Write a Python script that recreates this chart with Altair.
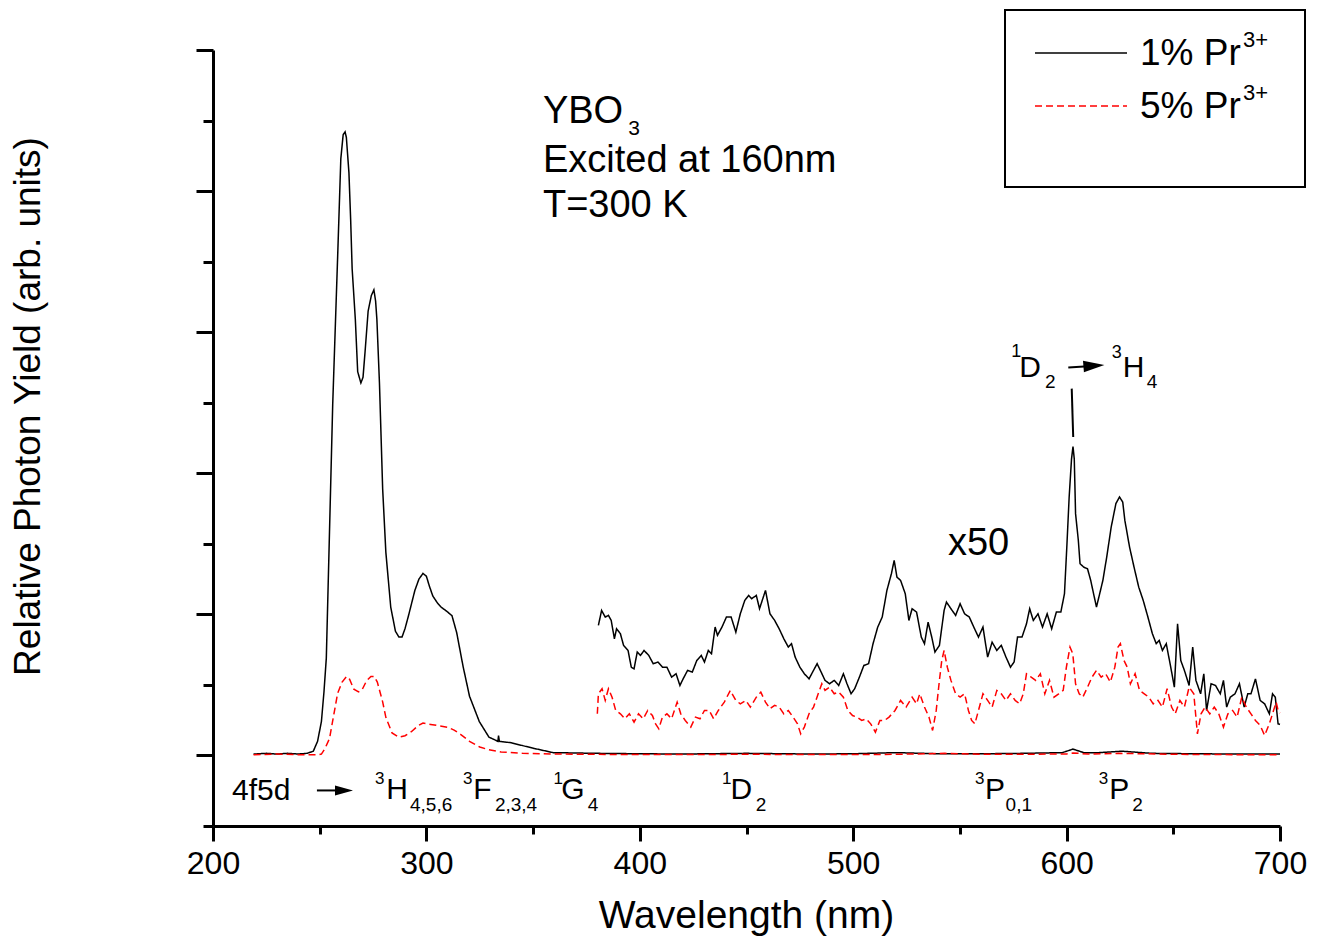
import altair as alt
import pandas as pd

FONT = "Liberation Sans"
LBL1 = "1% Pr3+"
LBL5 = "5% Pr3+"

# ---- 1% Pr3+ , full scale ----
wl_1_main = [219, 225, 230, 235, 240, 244, 247, 249, 250.8, 252, 253.1, 254.6, 256.1, 258.4, 259.9, 261.0,
             261.9, 262.5, 263.7, 264.5, 265.2, 266.7, 267.8, 269.3, 270.3, 271.2, 272.7, 274.2, 275.4,
             276.2, 276.8, 278.0, 279.5, 281.0, 283.3, 285.5, 287.1, 288.6, 290, 291.6, 294.6, 296.5,
             298.4, 300, 301.4, 303, 305.2, 307, 309.7, 312.0, 314.2, 317.2, 320.2, 324.8, 329.3, 333.5,
             333.8, 334.2, 339.8, 345, 350.4, 359.4, 380, 400, 420, 450, 480, 500, 520, 540, 560, 580,
             598, 603, 608, 615, 626, 640, 660, 680, 700]
y_1_main = [0.01, 0.015, 0.01, 0.015, 0.01, 0.015, 0.03, 0.10, 0.24, 0.45, 0.69, 1.59, 2.49, 3.53, 4.23, 4.40,
            4.42, 4.38, 4.13, 3.80, 3.45, 3.09, 2.72, 2.64, 2.68, 2.85, 3.15, 3.26, 3.30,
            3.22, 3.09, 2.64, 1.89, 1.44, 1.05, 0.88, 0.84, 0.84, 0.90, 0.99, 1.17, 1.25,
            1.29, 1.27, 1.20, 1.13, 1.08, 1.05, 1.02, 0.99, 0.87, 0.63, 0.42, 0.24, 0.13, 0.10,
            0.14, 0.10, 0.09, 0.07, 0.05, 0.02, 0.015, 0.012, 0.01, 0.015, 0.01, 0.012, 0.02, 0.012, 0.012, 0.015,
            0.02, 0.045, 0.02, 0.02, 0.03, 0.015, 0.012, 0.01, 0.01]

# ---- 5% Pr3+ , full scale ----
wl_5_main = [219, 230, 240, 249, 250.8, 252.5, 254.6, 256.5, 258.4, 260.5, 262.6, 264, 266, 268.2, 270, 272,
             274, 275.5, 277, 279.5, 281, 283.9, 287.1, 290, 293.1, 296, 298.4, 302, 306, 310, 313, 316,
             320.2, 325, 329.3, 335, 345, 360, 400, 450, 500, 520, 543, 560, 600, 603, 610, 625, 650, 700]
y_5_main = [0.005, 0.01, 0.005, 0.005, 0.01, 0.05, 0.12, 0.28, 0.44, 0.52, 0.56, 0.54, 0.47, 0.45, 0.47, 0.53,
            0.56, 0.56, 0.52, 0.38, 0.27, 0.16, 0.13, 0.14, 0.17, 0.21, 0.23, 0.22, 0.21, 0.20, 0.18, 0.15,
            0.10, 0.06, 0.04, 0.025, 0.015, 0.01, 0.006, 0.008, 0.006, 0.008, 0.015, 0.008, 0.01, 0.018, 0.01,
            0.015, 0.008, 0.004]

# ---- 1% Pr3+ , x50 ----
wl_1_x50 = [380.6, 382.1, 383.8, 385.3, 386.6, 388.1, 389.1, 390.9, 392.4, 394.5, 396.0, 397.3, 398.8, 400.3,
            402.0, 404.2, 406.3, 408.5, 410.6, 412.7, 414.9, 417.0, 418.8, 420.3, 422.4, 424.6, 426.7, 428.8,
            430.3, 432.1, 433.6, 435.3, 436.4, 438.5, 440.6, 442.8, 445.0, 447.1, 449.2, 451.0, 452.4, 454.6,
            456.1, 458.9, 461.0, 463.2, 465.3, 467.5, 469.6, 471.1, 472.8, 475.0, 477.1, 479.3, 481.4, 483.1,
            484.6, 486.8, 488.9, 491.1, 493.2, 495.4, 497.1, 499.0, 500.7, 502.9, 505.0, 507.2, 509.3, 511.5,
            513.6, 515.8, 517.9, 519.2, 520.5, 522.2, 524.4, 526.1, 527.6, 529.7, 531.9, 533.4, 535.1, 536.8,
            538.3, 540.4, 542.6, 543.7, 545.8, 548.0, 550.1, 552.2, 554.4, 556.5, 558.7, 560.8, 563.0, 565.1,
            567.3, 569.4, 571.6, 573.7, 575.4, 577.0, 579.1, 581.2, 582.7, 584.4, 586.6, 588.7, 590.9, 593.0,
            595.2, 597.3, 599.0, 600.1, 601.2, 602.3, 603.0, 603.6, 604.2, 605.5, 606.3, 608.0, 609.8, 611.3,
            612.3, 614.0, 615.5, 617.0, 618.8, 620.9, 623.1, 624.8, 626.3, 627.3, 629.5, 631.6, 633.8, 635.9,
            638.1, 640.2, 642.0, 643.4, 644.9, 646.7, 648.8, 650.5, 652.0, 653.5, 655.2, 657.4, 659.1, 660.6,
            662.8, 664.3, 665.6, 667.7, 669.8, 672.0, 673.5, 675.0, 676.7, 678.9, 681.0, 683.2, 684.9, 686.4,
            688.5, 690.7, 692.8, 695.0, 696.5, 697.8, 699.1, 700.0]
y_1_x50 = [0.922, 1.028, 0.981, 0.993, 0.957, 0.827, 0.898, 0.863, 0.780, 0.744, 0.626, 0.614, 0.733, 0.709,
           0.744, 0.709, 0.650, 0.662, 0.626, 0.626, 0.555, 0.579, 0.496, 0.543, 0.603, 0.591, 0.673, 0.709,
           0.662, 0.744, 0.721, 0.910, 0.851, 0.910, 0.981, 0.981, 0.874, 1.004, 1.099, 1.134, 1.111, 1.134,
           1.040, 1.170, 1.004, 0.957, 0.898, 0.827, 0.768, 0.792, 0.697, 0.626, 0.579, 0.543, 0.603, 0.650,
           0.603, 0.532, 0.508, 0.532, 0.496, 0.579, 0.508, 0.437, 0.473, 0.555, 0.638, 0.650, 0.792, 0.910,
           0.981, 1.170, 1.288, 1.383, 1.264, 1.241, 1.146, 0.957, 1.040, 1.016, 0.839, 0.792, 0.945, 0.839,
           0.733, 0.780, 1.028, 1.087, 1.040, 0.993, 1.075, 1.004, 0.981, 0.910, 0.839, 0.910, 0.697, 0.803,
           0.744, 0.780, 0.697, 0.626, 0.662, 0.839, 0.839, 0.933, 1.040, 0.957, 1.004, 0.910, 1.004, 0.898,
           1.016, 1.016, 1.146, 1.477, 1.832, 2.10, 2.19, 2.10, 1.714, 1.524, 1.359, 1.335, 1.323, 1.241,
           1.170, 1.052, 1.146, 1.241, 1.406, 1.619, 1.785, 1.832, 1.796, 1.666, 1.477, 1.335, 1.193, 1.099,
           0.981, 0.863, 0.792, 0.815, 0.744, 0.792, 0.626, 0.484, 0.933, 0.673, 0.603, 0.496, 0.768, 0.532,
           0.437, 0.579, 0.319, 0.508, 0.496, 0.437, 0.532, 0.343, 0.413, 0.437, 0.508, 0.343, 0.437, 0.437,
           0.543, 0.390, 0.366, 0.295, 0.437, 0.413, 0.224, 0.22]

# ---- 5% Pr3+ , x50 ----
wl_5_x50 = [380.1, 380.6, 382.3, 383.8, 385.3, 387.0, 388.7, 390.9, 393.0, 395.1, 397.3, 399.4, 401.6, 403.7,
            405.9, 407.4, 408.9, 410.6, 412.7, 414.9, 417.5, 419.2, 421.3, 423.9, 426.1, 428.2, 430.3, 432.5,
            434.6, 436.8, 439.6, 442.4, 445.0, 447.1, 449.7, 451.8, 454.6, 456.7, 458.9, 461.0, 463.2, 465.3,
            467.5, 469.6, 471.8, 473.9, 475.4, 477.1, 479.3, 481.4, 483.6, 485.3, 486.8, 488.9, 491.1, 493.2,
            495.4, 497.5, 499.7, 501.8, 504.0, 506.1, 508.2, 510.4, 512.5, 514.7, 516.8, 519.6, 522.2, 524.8,
            527.6, 529.7, 531.2, 533.4, 535.5, 537.2, 538.9, 540.4, 541.5, 542.6, 544.1, 545.8, 548.0, 550.1,
            552.2, 554.0, 555.5, 557.0, 558.7, 560.8, 563.0, 565.1, 567.3, 569.4, 571.6, 573.7, 575.9, 578.0,
            579.7, 581.2, 583.4, 585.5, 587.7, 589.8, 592.0, 594.1, 596.3, 598.4, 599.9, 601.6, 602.9, 604.2,
            605.9, 607.6, 609.8, 611.9, 614.0, 616.2, 618.3, 620.5, 622.6, 624.1, 625.2, 626.9, 628.4, 629.9,
            632.1, 634.2, 636.4, 638.5, 640.6, 642.8, 644.9, 647.1, 649.2, 650.9, 653.1, 655.2, 657.4, 659.6,
            661.3, 663.0, 664.9, 667.1, 669.2, 671.3, 673.5, 675.6, 677.8, 679.9, 682.1, 684.2, 686.4, 688.5,
            690.7, 692.8, 695.0, 696.5, 698.2, 699.1, 700.0]
y_5_x50 = [0.295, 0.437, 0.473, 0.390, 0.473, 0.413, 0.319, 0.295, 0.260, 0.295, 0.236, 0.295, 0.260, 0.319,
           0.283, 0.224, 0.189, 0.272, 0.295, 0.260, 0.378, 0.295, 0.248, 0.201, 0.272, 0.260, 0.319, 0.319,
           0.260, 0.319, 0.378, 0.461, 0.390, 0.366, 0.390, 0.343, 0.413, 0.449, 0.378, 0.331, 0.355, 0.343,
           0.295, 0.319, 0.272, 0.224, 0.153, 0.201, 0.295, 0.343, 0.437, 0.508, 0.461, 0.484, 0.437, 0.449,
           0.413, 0.319, 0.283, 0.272, 0.248, 0.260, 0.224, 0.165, 0.248, 0.248, 0.272, 0.319, 0.390, 0.343,
           0.413, 0.366, 0.437, 0.343, 0.272, 0.177, 0.319, 0.532, 0.673, 0.744, 0.626, 0.532, 0.437, 0.413,
           0.437, 0.319, 0.248, 0.224, 0.319, 0.437, 0.390, 0.343, 0.461, 0.437, 0.390, 0.437, 0.390, 0.366,
           0.437, 0.579, 0.555, 0.532, 0.579, 0.437, 0.532, 0.413, 0.437, 0.461, 0.626, 0.768, 0.721, 0.508,
           0.437, 0.413, 0.484, 0.555, 0.603, 0.555, 0.579, 0.520, 0.626, 0.768, 0.792, 0.673, 0.626, 0.508,
           0.579, 0.461, 0.437, 0.413, 0.366, 0.390, 0.343, 0.473, 0.343, 0.295, 0.390, 0.343, 0.484, 0.437,
           0.153, 0.295, 0.343, 0.295, 0.343, 0.295, 0.201, 0.295, 0.319, 0.272, 0.413, 0.343, 0.295, 0.248,
           0.213, 0.142, 0.224, 0.295, 0.378, 0.319, 0.30]

# ---- annotation text pieces (x in nm, y in plot units) ----
note_text = ["YBO", "3", "Excited at 160nm", "T=300 K", "x50",
             "4f5d", "3", "H", "4,5,6", "3", "F", "2,3,4", "1", "G", "4",
             "1", "D", "2", "3", "P", "0,1", "3", "P", "2",
             "1", "D", "2", "3", "H", "4"]
note_x = [354.6, 394.6, 354.6, 354.6, 544.4,
          208.9, 275.9, 281.2, 292.3, 317.2, 322.0, 332.1, 359.6, 363.2, 375.6,
          438.5, 442.5, 454.3, 557.1, 561.8, 571.4, 615.1, 620.0, 630.8,
          574.1, 577.8, 589.9, 621.1, 626.3, 637.5]
note_y = [4.48, 4.40, 4.135, 3.816, 1.418,
          -0.315, -0.20, -0.31, -0.395, -0.20, -0.31, -0.395, -0.20, -0.31, -0.395,
          -0.20, -0.31, -0.395, -0.20, -0.31, -0.395, -0.20, -0.31, -0.395,
          2.823, 2.683, 2.603, 2.816, 2.683, 2.603]
note_size = [38, 21, 38, 38, 38,
             30, 17, 30, 19, 17, 30, 19, 17, 30, 19,
             17, 30, 19, 17, 30, 19, 17, 30, 19,
             18, 30, 19, 18, 30, 19]

# arrow shafts and the 1D2 marker line
seg_x = [248.7, 600.8, 602.4]
seg_y = [-0.248, 2.749, 2.600]
seg_x2 = [261.0, 612.0, 603.1]
seg_y2 = [-0.248, 2.761, 2.257]
# arrow heads
head_x = [261.4, 612.8]
head_y = [-0.248, 2.762]
head_angle = [0, 355.4]
head_size = [324, 441]

# legend entries
legend_text = ["1% Pr", "5% Pr"]
legend_sup = ["3+", "3+"]

rows = []
for s, part, xs, ys in [(LBL1, "main", wl_1_main, y_1_main), (LBL5, "main", wl_5_main, y_5_main),
                        (LBL1, "x50", wl_1_x50, y_1_x50), (LBL5, "x50", wl_5_x50, y_5_x50)]:
    for i, (a, b) in enumerate(zip(xs, ys)):
        rows.append({"wl": a, "v": b, "series": s, "part": part, "order": i})
df = pd.DataFrame(rows)

notes = pd.DataFrame({"x": note_x, "y": note_y, "t": note_text, "s": note_size})
segs = pd.DataFrame({"x": seg_x, "y": seg_y, "x2": seg_x2, "y2": seg_y2})
heads = pd.DataFrame({"x": head_x, "y": head_y, "a": head_angle, "s": head_size})
one = pd.DataFrame({"k": [0]})

xscale = alt.Scale(domain=[200, 700], nice=False, zero=False)
yscale = alt.Scale(domain=[-0.5, 5], nice=False, zero=False)

xaxis = alt.Axis(
    values=list(range(200, 701, 50)),
    labelExpr="datum.value % 100 === 0 ? datum.label : ''",
    labelFlush=False, labelOverlap=False,
    tickSize={"condition": {"test": "datum.value % 100 === 0", "value": 15}, "value": 8},
    title="Wavelength (nm)", titleFontSize=39, titleFont=FONT, titleFontWeight="normal",
    titleColor="black", titleX=533, titleY=101, titleBaseline="alphabetic",
    labelFontSize=32, labelFont=FONT, labelColor="black", labelPadding=7,
    domainColor="black", domainWidth=3, tickColor="black", tickWidth=3, grid=False,
)
yaxis = alt.Axis(
    values=[i / 2 for i in range(-1, 11)],
    labels=False,
    tickSize={"condition": {"test": "datum.value % 1 === 0", "value": 17}, "value": 10},
    title="Relative Photon Yield (arb. units)", titleFontSize=37, titleFont=FONT,
    titleFontWeight="normal", titleColor="black", titleX=-185, titleY=356,
    titleBaseline="middle", titleAngle=270,
    domainColor="black", domainWidth=3, tickColor="black", tickWidth=3, grid=False,
)

lines = alt.Chart(df).mark_line(strokeWidth=1.5).encode(
    x=alt.X("wl:Q", scale=xscale, axis=xaxis),
    y=alt.Y("v:Q", scale=yscale, axis=yaxis),
    color=alt.Color("series:N", scale=alt.Scale(domain=[LBL1, LBL5], range=["black", "#ff0000"]), legend=None),
    strokeDash=alt.StrokeDash("series:N", scale=alt.Scale(domain=[LBL1, LBL5], range=[[1, 0], [7, 4]]), legend=None),
    detail="part:N",
    order="order:Q",
)

texts = alt.Chart(notes).mark_text(align="left", baseline="alphabetic", font=FONT, color="black").encode(
    x=alt.X("x:Q", scale=xscale), y=alt.Y("y:Q", scale=yscale),
    text="t:N", size=alt.Size("s:Q", scale=None),
)

rules = alt.Chart(segs).mark_rule(color="black", strokeWidth=2).encode(
    x=alt.X("x:Q", scale=xscale), y=alt.Y("y:Q", scale=yscale),
    x2="x2:Q", y2="y2:Q",
)

arrowheads = alt.Chart(heads).mark_point(
    shape="M -1 -0.55 L 1 0 L -1 0.55 Z", filled=True, color="black", opacity=1, strokeWidth=0,
).encode(
    x=alt.X("x:Q", scale=xscale), y=alt.Y("y:Q", scale=yscale),
    angle=alt.Angle("a:Q", scale=None), size=alt.Size("s:Q", scale=None),
)

# ---- legend box (drawn as a framed key, in pixel space of the plot) ----
leg_box = alt.Chart(one).mark_rect(fill="white", stroke="black", strokeWidth=2).encode(
    x=alt.value(792), x2=alt.value(1092), y=alt.value(-40), y2=alt.value(137))
leg_l1 = alt.Chart(one).mark_rule(color="black", strokeWidth=1.5).encode(
    x=alt.value(822), x2=alt.value(914), y=alt.value(3))
leg_l2 = alt.Chart(one).mark_rule(color="#ff0000", strokeWidth=1.5, strokeDash=[7, 4]).encode(
    x=alt.value(822), x2=alt.value(914), y=alt.value(56))
leg_t1 = alt.Chart(one).mark_text(align="left", baseline="alphabetic", font=FONT, fontSize=37,
                                  color="black", text=legend_text[0]).encode(x=alt.value(927), y=alt.value(15))
leg_t2 = alt.Chart(one).mark_text(align="left", baseline="alphabetic", font=FONT, fontSize=37,
                                  color="black", text=legend_text[1]).encode(x=alt.value(927), y=alt.value(68))
leg_s1 = alt.Chart(one).mark_text(align="left", baseline="alphabetic", font=FONT, fontSize=22,
                                  color="black", text=legend_sup[0]).encode(x=alt.value(1030), y=alt.value(-3))
leg_s2 = alt.Chart(one).mark_text(align="left", baseline="alphabetic", font=FONT, fontSize=22,
                                  color="black", text=legend_sup[1]).encode(x=alt.value(1030), y=alt.value(50))

chart = alt.layer(lines, texts, rules, arrowheads, leg_box, leg_l1, leg_l2, leg_t1, leg_t2, leg_s1, leg_s2).properties(
    width=1067, height=776,
    autosize=alt.AutoSizeParams(type="none"),
    padding={"left": 205, "top": 42, "right": 31, "bottom": 110},
    background="white",
).configure_view(stroke=None)

chart.save("out.html", embed_options={"renderer": "svg", "actions": False})
